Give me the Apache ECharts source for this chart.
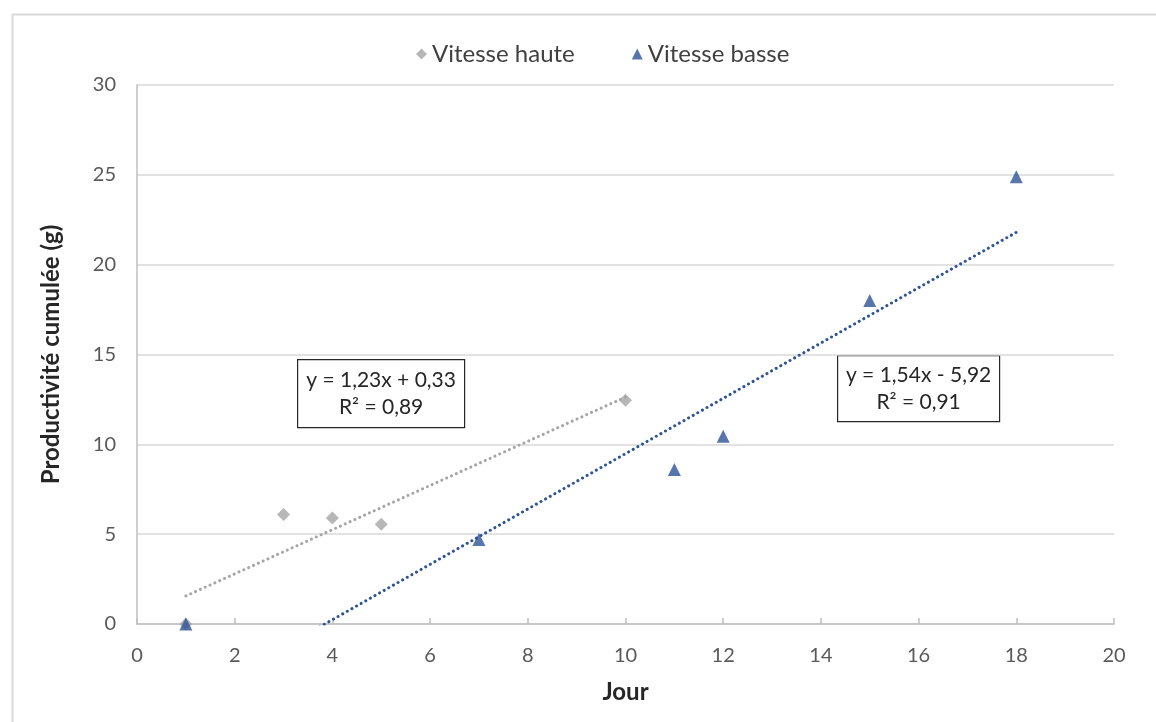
<!DOCTYPE html>
<html><head><meta charset="utf-8">
<script src="https://cdn.jsdelivr.net/npm/echarts@6/dist/echarts.min.js"></script>
<style>html,body{margin:0;padding:0;background:#fff}#c{width:1156px;height:722px}</style>
</head><body><div id="c"></div>
<script>
const seriesNames = ['Vitesse haute', 'Vitesse basse'];
const hauteX = [1, 3, 4, 5, 10];
const hauteY = [0, 6.1, 5.9, 5.55, 12.45];
const basseX = [1, 7, 11, 12, 15, 18];
const basseY = [0, 4.7, 8.6, 10.45, 18.0, 24.9];
const hauteTrend = [1.23, 0.33];   // slope, intercept
const basseTrend = [1.54, -5.92];
const hauteLabel = ['y = 1,23x + 0,33', 'R² = 0,89'];
const basseLabel = ['y = 1,54x - 5,92', 'R² = 0,91'];

const FONT = 'Lato, "Open Sans", sans-serif';
const GRAY = '#A5A5A5', BLUE = '#2E5496';

function pts(xs, ys){ return xs.map((x,i)=>[x, ys[i]]); }
function trend(xs, c){
  const x0 = Math.min(...xs), x1 = Math.max(...xs);
  return [[x0, c[0]*x0 + c[1]], [x1, c[0]*x1 + c[1]]];
}

const chart = echarts.init(document.getElementById('c'), null, {renderer:'canvas'});
const dotted = (col)=>({color: col, width: 3, type: [0.1, 5.2], cap: 'round'});

chart.setOption({
  animation: false,
  backgroundColor: '#fff',
  grid: {left: 137, right: 42, top: 85, bottom: 98},
  legend: {
    top: 37, left: 411, itemGap: 57, itemWidth: 11, itemHeight: 11,
    data: seriesNames,
    textStyle: {fontFamily: FONT, fontSize: 24, color: '#404040'}
  },
  xAxis: {
    type: 'value', min: 0, max: 20, interval: 2,
    name: 'Jour', nameLocation: 'middle', nameGap: 56,
    nameTextStyle: {fontFamily: FONT, fontSize: 24, fontWeight: 'bold', color: '#262626'},
    axisLine: {show: true, lineStyle: {color: '#BFBFBF', width: 1.5}},
    axisTick: {show: true, inside: true, length: 6, lineStyle: {color: '#BFBFBF', width: 1.5}},
    axisLabel: {fontFamily: FONT, fontSize: 20, color: '#595959', margin: 22},
    splitLine: {show: false}
  },
  yAxis: {
    type: 'value', min: 0, max: 30, interval: 5,
    name: 'Productivité cumulée (g)', nameLocation: 'middle', nameGap: 74,
    nameTextStyle: {fontFamily: FONT, fontSize: 24, fontWeight: 'bold', color: '#262626'},
    axisLine: {show: true, lineStyle: {color: '#BFBFBF', width: 1.5}},
    axisTick: {show: false},
    axisLabel: {fontFamily: FONT, fontSize: 20, color: '#595959', margin: 21},
    splitLine: {show: true, lineStyle: {color: '#D9D9D9', width: 1.5}}
  },
  series: [
    {name: seriesNames[0], type: 'scatter', symbol: 'diamond', symbolSize: 13,
     itemStyle: {color: GRAY}, data: pts(hauteX, hauteY), z: 3},
    {name: seriesNames[1], type: 'scatter', symbol: 'triangle', symbolSize: 13,
     itemStyle: {color: BLUE}, data: pts(basseX, basseY), z: 4},
    {type: 'line', data: trend(hauteX, hauteTrend), symbol: 'none', clip: true,
     lineStyle: dotted(GRAY), z: 2, silent: true},
    {type: 'line', data: trend(basseX, basseTrend), symbol: 'none', clip: true,
     lineStyle: dotted(BLUE), z: 2, silent: true}
  ],
  graphic: [
    {type: 'rect', left: 10, top: 12, shape: {width: 1160, height: 730},
     style: {fill: 'none', stroke: '#D9D9D9', lineWidth: 2}, silent: true},
    {type: 'group', left: 297, top: 359, children: [
      {type: 'rect', shape: {width: 167, height: 68}, style: {fill: '#fff', stroke: '#262626', lineWidth: 1.2}},
      {type: 'text', x: 83.5, y: 7, style: {text: hauteLabel.join('\n'), align: 'center', fontFamily: FONT, fontSize: 21, lineHeight: 27, fill: '#262626'}}
    ]},
    {type: 'group', left: 837, top: 355, children: [
      {type: 'rect', shape: {width: 162, height: 66}, style: {fill: '#fff', stroke: '#262626', lineWidth: 1.2}},
      {type: 'text', x: 81, y: 6, style: {text: basseLabel.join('\n'), align: 'center', fontFamily: FONT, fontSize: 21, lineHeight: 27, fill: '#262626'}}
    ]}
  ]
});
</script></body></html>
